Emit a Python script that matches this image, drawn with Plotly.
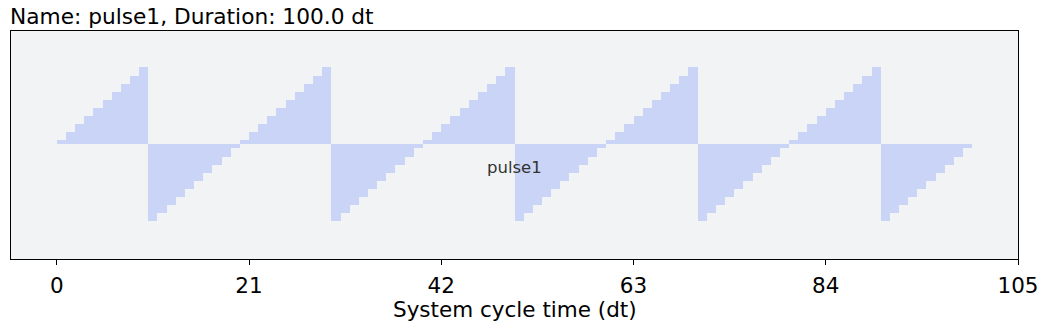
import plotly.graph_objects as go

samples = list(range(100))
amplitude = [
    0.05, 0.15, 0.25, 0.35, 0.45, 0.55, 0.65, 0.75, 0.85, 0.95,
    -0.95, -0.85, -0.75, -0.65, -0.55, -0.45, -0.35, -0.25, -0.15, -0.05,
    0.05, 0.15, 0.25, 0.35, 0.45, 0.55, 0.65, 0.75, 0.85, 0.95,
    -0.95, -0.85, -0.75, -0.65, -0.55, -0.45, -0.35, -0.25, -0.15, -0.05,
    0.05, 0.15, 0.25, 0.35, 0.45, 0.55, 0.65, 0.75, 0.85, 0.95,
    -0.95, -0.85, -0.75, -0.65, -0.55, -0.45, -0.35, -0.25, -0.15, -0.05,
    0.05, 0.15, 0.25, 0.35, 0.45, 0.55, 0.65, 0.75, 0.85, 0.95,
    -0.95, -0.85, -0.75, -0.65, -0.55, -0.45, -0.35, -0.25, -0.15, -0.05,
    0.05, 0.15, 0.25, 0.35, 0.45, 0.55, 0.65, 0.75, 0.85, 0.95,
    -0.95, -0.85, -0.75, -0.65, -0.55, -0.45, -0.35, -0.25, -0.15, -0.05,
]
tick_values = [0, 21, 42, 63, 84, 105]
tick_labels = ["0", "21", "42", "63", "84", "105"]
title_text = "Name: pulse1, Duration: 100.0 dt"
pulse_label = "pulse1"
x_title = "System cycle time (dt)"

FONT = "DejaVu Sans"
W, H = 1047, 326

fig = go.Figure()
fig.add_trace(go.Bar(
    x=[s + 0.5 for s in samples],
    y=amplitude,
    width=1.0,
    marker=dict(color="#c9d4f6", line=dict(width=0)),
    hoverinfo="skip",
    showlegend=False,
))

fig.add_annotation(
    x=50, y=-0.29, xref="x", yref="y",
    text=pulse_label, showarrow=False,
    font=dict(family=FONT, size=16.5, color="#333333"),
    xanchor="center", yanchor="middle",
)

# x-axis title placed as annotation for precise vertical placement
fig.add_annotation(
    x=0.5, y=0, xref="paper", yref="paper",
    text=x_title, showarrow=False,
    font=dict(family=FONT, size=21.5, color="black"),
    xanchor="center", yanchor="middle", yshift=-50, borderpad=0,
)

fig.update_layout(
    width=W, height=H,
    margin=dict(l=11, r=29, t=31, b=67, pad=0, autoexpand=False),
    paper_bgcolor="white",
    plot_bgcolor="#f2f3f5",
    bargap=0,
    title=dict(
        text=title_text,
        x=10 / W, xanchor="left", xref="container",
        y=1 - 16 / H, yanchor="middle",
        font=dict(family=FONT, size=21.7, color="black"),
    ),
    font=dict(family=FONT, color="black"),
)

fig.update_xaxes(
    range=[-5, 105],
    tickmode="array", tickvals=tick_values, ticktext=tick_labels,
    ticks="outside", ticklen=5, tickwidth=1, tickcolor="black",
    tickfont=dict(family=FONT, size=21.5, color="black"),
    ticklabelstandoff=2,
    showline=True, linecolor="black", linewidth=1, mirror=True,
    showgrid=False, zeroline=False, automargin=False,
)
fig.update_yaxes(
    range=[-1.416, 1.40],
    showticklabels=False, ticks="",
    showline=True, linecolor="black", linewidth=1, mirror=True,
    showgrid=False, zeroline=False, automargin=False,
)

fig.write_html("out.html")
